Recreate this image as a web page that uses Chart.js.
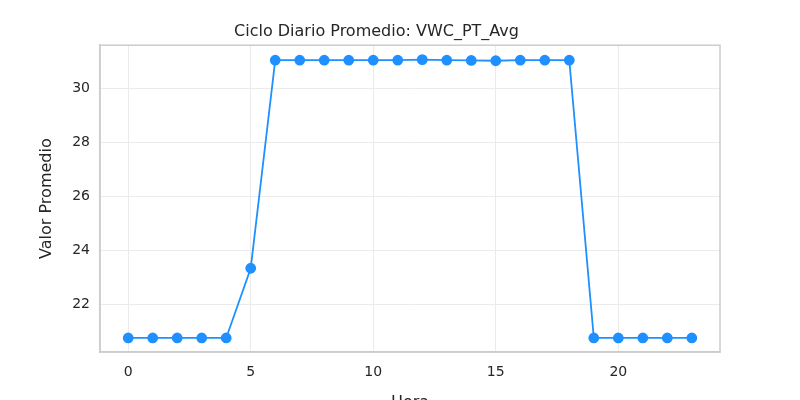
<!DOCTYPE html>
<html><head><script src="https://cdn.jsdelivr.net/npm/chart.js@4"></script>
<style>html,body{margin:0;background:#fff;overflow:hidden;height:400px}#w{width:800px;height:416px}</style></head>
<body><div id="w"><canvas id="c"></canvas></div>
<script>
const hours=[0,1,2,3,4,5,6,7,8,9,10,11,12,13,14,15,16,17,18,19,20,21,22,23];
const values=[20.75,20.75,20.75,20.75,20.75,23.33,31.03,31.03,31.03,31.03,31.03,31.03,31.05,31.03,31.02,31.01,31.03,31.03,31.03,20.75,20.75,20.75,20.75,20.75];
const xTicks=[0,5,10,15,20];
const yTicks=[22,24,26,28,30];
const F="DejaVu Sans";
new Chart(document.getElementById('c'),{
 type:'scatter',
 data:{datasets:[{data:hours.map((h,i)=>({x:h,y:values[i]})),showLine:true,borderColor:'#1e90ff',backgroundColor:'#1e90ff',pointRadius:4.5,pointHoverRadius:4.5,borderWidth:1.8}]},
 options:{responsive:true,maintainAspectRatio:false,animation:false,
  layout:{padding:{left:33,right:80,top:22,bottom:0}},
  plugins:{legend:{display:false},title:{display:true,text:'Ciclo Diario Promedio: VWC_PT_Avg',color:'#262626',font:{family:F,size:16,weight:'normal'},padding:{top:0,bottom:4}}},
  scales:{
   x:{type:'linear',min:-1.15,max:24.15,afterBuildTicks:a=>{a.ticks=xTicks.map(v=>({value:v}))},
      grid:{color:'#ebebeb',drawTicks:false},border:{color:'#cccccc',width:1.5},
      ticks:{color:'#262626',font:{family:F,size:14},padding:12},
      title:{display:true,text:'Hora',color:'#262626',font:{family:F,size:16},padding:{top:0}}},
   y:{min:20.23,max:31.585,afterBuildTicks:a=>{a.ticks=yTicks.map(v=>({value:v}))},
      grid:{color:'#ebebeb',drawTicks:false},border:{color:'#cccccc',width:1.5},
      ticks:{color:'#262626',font:{family:F,size:14},padding:10},
      title:{display:true,text:'Valor Promedio',color:'#262626',font:{family:F,size:16},padding:{bottom:6}}}
  }},
 plugins:[{id:'box',afterDraw(c){const a=c.chartArea,x=c.ctx;x.save();x.strokeStyle='#cccccc';x.lineWidth=1.5;x.strokeRect(a.left,a.top,a.right-a.left,a.bottom-a.top);x.restore();}}]
});
</script></body></html>
